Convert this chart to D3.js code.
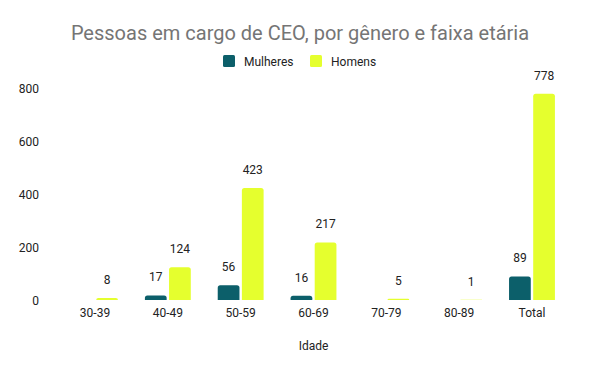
<!DOCTYPE html>
<html><head><meta charset="utf-8">
<script src="https://cdn.jsdelivr.net/npm/d3@7"></script>
<style>body{margin:0;background:#fff}svg{display:block;font-family:Roboto,"Liberation Sans",Arial,sans-serif}</style>
</head><body><svg id="c" width="600" height="371"></svg>
<script>
const categories = ["30-39","40-49","50-59","60-69","70-79","80-89","Total"];
const seriesNames = ["Mulheres","Homens"];
const mulheres = [0,17,56,16,0,0,89];
const homens = [8,124,423,217,5,1,778];
const yTicks = [0,200,400,600,800];
const colors = ["#0c5f6a","#e5ff2e"];

const svg = d3.select("#c");
const x = d3.scaleBand().domain(categories).range([58.6,568.4]).paddingInner(0.37).paddingOuter(0.185);
const xs = d3.scaleBand().domain(seriesNames).range([0,x.bandwidth()]).paddingInner(0.1);
const y = d3.scaleLinear().domain([0,800]).range([300,88]);

svg.append("text").attr("x",300).attr("y",40).attr("text-anchor","middle")
  .attr("font-size",20).attr("fill","#757575").text("Pessoas em cargo de CEO, por gênero e faixa etária");

// legend
const leg = svg.append("g");
const legItems = [{n:"Mulheres",x:223},{n:"Homens",x:310}];
legItems.forEach((d,i)=>{
  leg.append("rect").attr("x",d.x).attr("y",55).attr("width",12).attr("height",12).attr("rx",1.5).attr("fill",colors[i]);
  leg.append("text").attr("x",d.x+21).attr("y",65.5).attr("font-size",12).attr("fill","#222").text(d.n);
});

// y axis labels
svg.append("g").selectAll("text").data(yTicks).join("text")
  .attr("x",39).attr("y",d=>y(d)+4.5).attr("text-anchor","end").attr("font-size",12).attr("fill","#222").text(d=>d);

// x axis labels
svg.append("g").selectAll("text").data(categories).join("text")
  .attr("x",d=>x(d)+x.bandwidth()/2).attr("y",317).attr("text-anchor","middle").attr("font-size",12).attr("fill","#222").text(d=>d);

svg.append("text").attr("x",313.5).attr("y",350).attr("text-anchor","middle").attr("font-size",12).attr("fill","#222").text("Idade");

const data = [mulheres,homens];
function barPath(x0,w,yTop,yBot,r){
  const h = yBot-yTop; r=Math.min(r,h,w/2);
  if(h<=0) return "";
  return `M${x0},${yBot}V${yTop+r}Q${x0},${yTop} ${x0+r},${yTop}H${x0+w-r}Q${x0+w},${yTop} ${x0+w},${yTop+r}V${yBot}Z`;
}
data.forEach((vals,si)=>{
  const g = svg.append("g");
  categories.forEach((c,ci)=>{
    const v = vals[ci];
    if(v<=0) return;
    const bx = x(c)+xs(seriesNames[si]);
    g.append("path").attr("d",barPath(bx,xs.bandwidth(),y(v),y(0),2.5)).attr("fill",colors[si]);
    g.append("text").attr("x",bx+xs.bandwidth()/2).attr("y",y(v)-14).attr("text-anchor","middle")
      .attr("font-size",12).attr("fill","#222").text(v);
  });
});
</script></body></html>
